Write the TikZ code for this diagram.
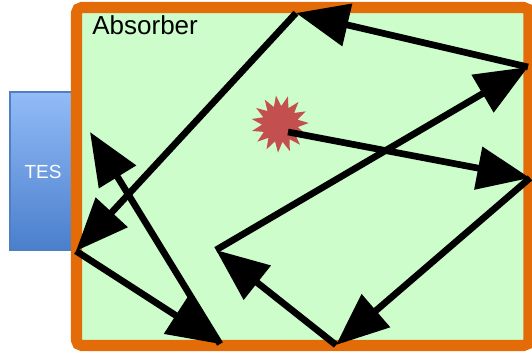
\documentclass[tikz,border=0pt]{standalone}
\usepackage{fontspec}
\setmainfont{Liberation Sans}
\usepackage{tikz}
\usetikzlibrary{arrows.meta,shapes.geometric}

\definecolor{absorbgreen}{HTML}{CCFDCB}
\definecolor{absorborange}{HTML}{E36C09}
\definecolor{testop}{HTML}{92BBF7}
\definecolor{tesbottom}{HTML}{4A7FCC}
\definecolor{tesborder}{HTML}{4F7FC0}
\definecolor{burstred}{HTML}{C3504F}

\tikzset{
  ray/.style={line width=3.8pt, line join=miter, -{Triangle[length=30pt,width=24pt]}},
  label text/.style={inner sep=0pt, anchor=base west}
}

\begin{document}
\begin{tikzpicture}[x=0.02cm, y=-0.02cm]
    \useasboundingbox (0,0) rectangle (532,355);

    % TES sensor
    \draw[tesborder, line width=0.6pt, top color=testop, bottom color=tesbottom]
        (10,92) rectangle (74,250);
    \node[white, font=\fontsize{10.8pt}{12pt}\selectfont] (tes) at (43,172) {TES};

    % Absorber
    \draw[absorborange, line width=6.3pt, fill=absorbgreen, rounded corners=3pt]
        (76.5,7.5) rectangle (529,345.5);
    \node[label text, font=\fontsize{14.8pt}{16pt}\selectfont] (absorber) at (92,34) {Absorber};

    % Hit
    \node[star, star points=15, star point ratio=1.6, fill=burstred, inner sep=0pt,
          minimum size=1.15cm, rotate=8] (burst) at (280,124) {};

    % Bounce points
    \coordinate (start) at (288,132);
    \coordinate (p1) at (530,178);
    \coordinate (p2) at (336,345);
    \coordinate (p3) at (216,250);
    \coordinate (p4) at (528,67);
    \coordinate (p5) at (296,13);
    \coordinate (p6) at (76,251);
    \coordinate (p7) at (220,344);
    \coordinate (p8) at (90,132);

    % Phonon path
    \foreach \a/\b in {start/p1, p1/p2, p2/p3, p3/p4, p4/p5, p5/p6, p6/p7, p7/p8}
        \draw[ray] (\a) -- (\b);

\end{tikzpicture}
\end{document}
